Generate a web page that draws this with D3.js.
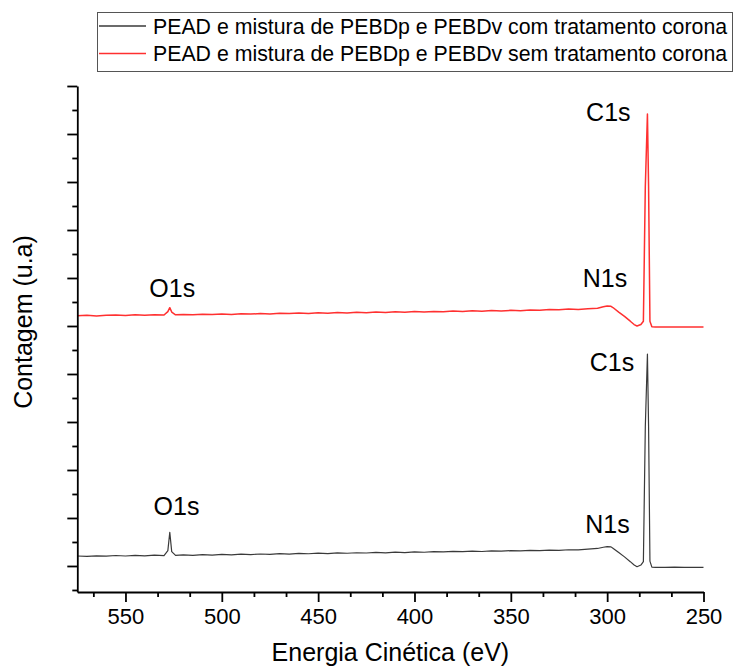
<!DOCTYPE html>
<html>
<head>
<meta charset="utf-8">
<script src="https://cdn.jsdelivr.net/npm/d3@7"></script>
<style>
  body { margin: 0; background: #fff; }
  svg { display: block; font-family: "Liberation Sans", Arial, sans-serif; }
</style>
</head>
<body>
<script>
// Energia (eV) e contagens (u.a.)
const energia = [575, 570, 565, 560, 555, 550, 545, 540, 535, 530, 528, 527, 526, 524, 520, 515, 510, 505, 500, 495,
  490, 485, 480, 475, 470, 465, 460, 455, 450, 445, 440, 435, 430, 425, 420, 415, 410, 405, 400, 395,
  390, 385, 380, 375, 370, 365, 360, 355, 350, 345, 340, 335, 330, 325, 320, 315, 310, 305, 302, 300,
  298, 297, 294, 291, 288, 286, 284.5, 282.5, 281.2, 280.2, 279.1, 278.5, 277.8, 276.8, 275, 270, 265, 260, 255, 250];

const semCorona = [6.215, 6.225, 6.21, 6.222, 6.23, 6.218, 6.232, 6.225, 6.235, 6.228, 6.3, 6.382, 6.29, 6.232, 6.24, 6.232, 6.245, 6.238, 6.25, 6.242,
  6.255, 6.248, 6.26, 6.252, 6.265, 6.258, 6.27, 6.262, 6.275, 6.268, 6.28, 6.272, 6.285, 6.278, 6.29, 6.282, 6.295, 6.288, 6.3, 6.292,
  6.304, 6.296, 6.31, 6.302, 6.315, 6.308, 6.322, 6.312, 6.326, 6.318, 6.335, 6.328, 6.342, 6.336, 6.352, 6.345, 6.36, 6.37, 6.4, 6.417,
  6.41, 6.385, 6.29, 6.2, 6.1, 6.03, 6.0, 6.03, 6.1, 8.9, 10.417, 8.9, 6.1, 5.985, 5.979, 5.98, 5.978, 5.979, 5.98, 5.979];

const comCorona = [1.208, 1.2, 1.212, 1.205, 1.218, 1.208, 1.222, 1.212, 1.225, 1.215, 1.32, 1.702, 1.3, 1.22, 1.232, 1.222, 1.236, 1.228, 1.24, 1.232,
  1.246, 1.238, 1.25, 1.243, 1.256, 1.248, 1.262, 1.255, 1.266, 1.258, 1.272, 1.265, 1.276, 1.27, 1.282, 1.275, 1.288, 1.28, 1.294, 1.286,
  1.3, 1.292, 1.304, 1.298, 1.31, 1.302, 1.314, 1.308, 1.32, 1.314, 1.326, 1.319, 1.33, 1.326, 1.338, 1.334, 1.35, 1.365, 1.39, 1.402,
  1.398, 1.37, 1.28, 1.19, 1.09, 1.02, 0.985, 1.02, 1.09, 3.9, 5.417, 3.9, 1.1, 0.975, 0.973, 0.972, 0.975, 0.973, 0.972, 0.973];

const xMajor = [550, 500, 450, 400, 350, 300, 250];
const legendas = ["PEAD e mistura de PEBDp e PEBDv com tratamento corona",
                  "PEAD e mistura de PEBDp e PEBDv sem tratamento corona"];

// rótulos dos picos: [texto, energia, contagem]
const picos = [
  ["C1s", 299.4, 10.28], ["N1s", 301.1, 6.82], ["O1s", 525.7, 6.61],
  ["C1s", 297.5, 5.07], ["N1s", 299.8, 1.69], ["O1s", 523.5, 2.06]
];

const cores = ["#3a3a3a", "#ff3030"];

const width = 734, height = 670;
const margin = { left: 77.3, right: 30.5, top: 86, bottom: 78 };

const svg = d3.select("body").append("svg")
  .attr("width", width)
  .attr("height", height);

const x = d3.scaleLinear().domain([575, 250]).range([margin.left, width - margin.right]);
const y = d3.scaleLinear().domain([0.458, 11]).range([height - margin.bottom, margin.top]);

// linhas dos espectros
const line = d3.line().x((d, i) => x(energia[i])).y(d => y(d));
[comCorona, semCorona].forEach((serie, k) => {
  svg.append("path")
    .datum(serie)
    .attr("fill", "none")
    .attr("stroke", cores[k])
    .attr("stroke-width", k === 1 ? 1.5 : 1.2)
    .attr("stroke-linejoin", "round")
    .attr("d", line);
});

// eixo X
const xMinor = d3.range(250, 575, 50 / 3).filter(v => Math.abs((v - 250) % 50) > 1 && Math.abs((v - 250) % 50) < 49);
const gx = svg.append("g").attr("transform", `translate(0,${height - margin.bottom})`);
gx.call(d3.axisBottom(x).tickValues(xMinor).tickSize(5).tickFormat(""));
gx.call(g => g.selectAll(".domain").remove());
const gx2 = svg.append("g").attr("transform", `translate(0,${height - margin.bottom})`);
gx2.call(d3.axisBottom(x).tickValues(xMajor).tickSize(10).tickSizeOuter(0).tickPadding(6).tickFormat(d3.format("d")));
gx2.selectAll("text").attr("font-size", 22).attr("fill", "#000").attr("font-family", "Liberation Sans, Arial");

// eixo Y
const yMinor = d3.range(0.5, 11, 1);
const yMajor = d3.range(1, 11.01, 1);
const gy = svg.append("g").attr("transform", `translate(${margin.left},0)`);
gy.call(d3.axisLeft(y).tickValues(yMinor).tickSize(5).tickFormat(""));
gy.call(g => g.selectAll(".domain").remove());
const gy2 = svg.append("g").attr("transform", `translate(${margin.left},0)`);
gy2.call(d3.axisLeft(y).tickValues(yMajor).tickSize(10).tickSizeOuter(0).tickFormat(""));

svg.selectAll(".domain, .tick line").attr("stroke", "#000").attr("stroke-width", 1.8);

// títulos dos eixos
svg.append("text")
  .attr("x", (margin.left + width - margin.right) / 2)
  .attr("y", 661)
  .attr("text-anchor", "middle")
  .attr("font-size", 25)
  .text("Energia Cinética (eV)");

svg.append("text")
  .attr("transform", `translate(32,322) rotate(-90)`)
  .attr("text-anchor", "middle")
  .attr("font-size", 25)
  .text("Contagem (u.a)");

// rótulos dos picos
svg.selectAll(".pico")
  .data(picos)
  .enter()
  .append("text")
  .attr("class", "pico")
  .attr("x", d => x(d[1]))
  .attr("y", d => y(d[2]))
  .attr("text-anchor", "middle")
  .attr("font-size", 25)
  .text(d => d[0]);

// legenda
const leg = svg.append("g");
leg.append("rect")
  .attr("x", 97.5).attr("y", 12.5)
  .attr("width", 635).attr("height", 59)
  .attr("fill", "#fff")
  .attr("stroke", "#555")
  .attr("stroke-width", 1);
legendas.forEach((t, i) => {
  const yy = 26 + i * 27.5;
  leg.append("line")
    .attr("x1", 99).attr("x2", 146)
    .attr("y1", yy).attr("y2", yy)
    .style("stroke", cores[i])
    .style("stroke-width", 1.4);
  leg.append("text")
    .attr("x", 153).attr("y", yy + 7.5)
    .attr("font-size", 21.3)
    .text(t);
});
</script>
</body>
</html>
